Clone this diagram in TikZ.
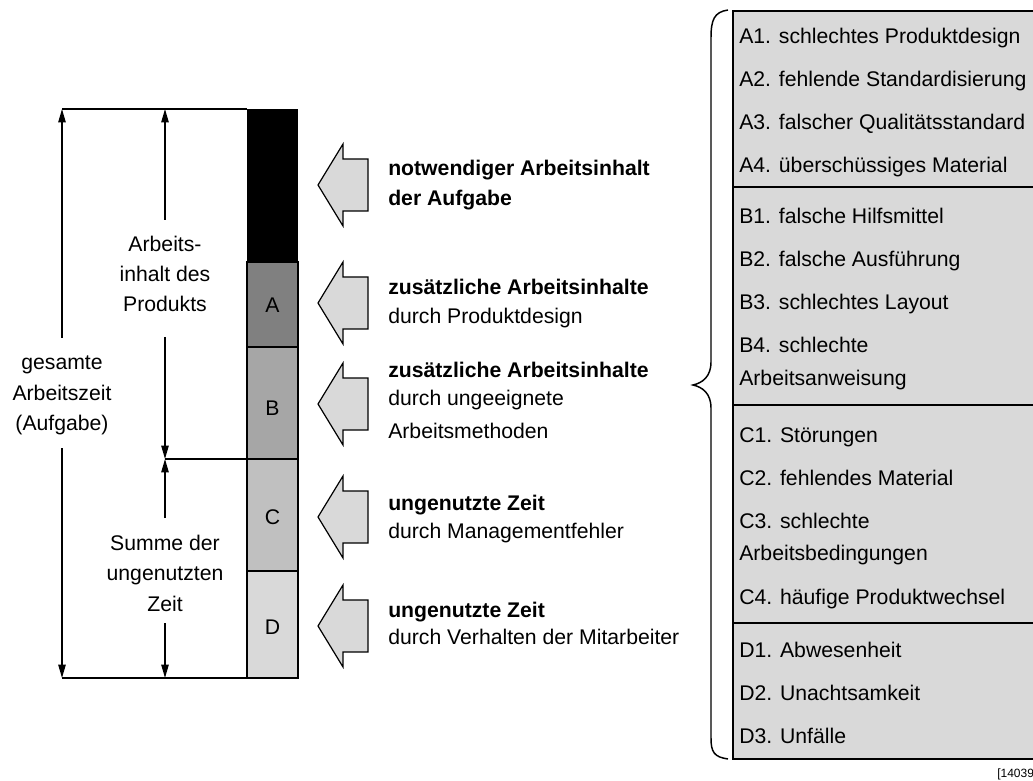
\documentclass[tikz,border=0pt]{standalone}
\usepackage{fontspec}
\setmainfont{Liberation Sans}
\usetikzlibrary{arrows.meta}
\definecolor{segA}{HTML}{808080}
\definecolor{segB}{HTML}{A6A6A6}
\definecolor{segC}{HTML}{C0C0C0}
\definecolor{segD}{HTML}{D9D9D9}
\definecolor{panel}{HTML}{D9D9D9}
\begin{document}
\begin{tikzpicture}[x=0.75pt,y=-0.75pt,
  every node/.style={inner sep=0pt,font=\fontsize{15.9}{18}\selectfont},
  lbl/.style={anchor=base},
  itm/.style={anchor=base west},
  hd/.style={anchor=base west,font=\fontsize{15.9}{18}\selectfont\bfseries},
  dim/.style={line width=1.1pt,-{Triangle[length=10pt,width=5.5pt]}},
  guide/.style={line width=1.1pt},
  seg/.style={draw,line width=0.8pt},
  blk/.style={draw,fill=segD,line width=0.9pt,line join=miter},
  rule/.style={line width=1.5pt}]
\useasboundingbox (0,0) rectangle (1033,781);
\clip (0,0) rectangle (1033,781);

% stacked bar
\fill[black] (247,109) rectangle (298,262);
\draw[seg,fill=segA] (247,262) rectangle (298,347);
\draw[seg,fill=segB] (247,347) rectangle (298,459);
\draw[seg,fill=segC] (247,459) rectangle (298,571);
\draw[seg,fill=segD] (247,571) rectangle (298,678);
\node[lbl] (la) at (272.5,313) {A};
\node[lbl] (lb) at (272.5,415) {B};
\node[lbl] (lc) at (272.5,524) {C};
\node[lbl] (ld) at (272.5,634) {D};

% dimension coordinates
\coordinate (tl) at (62,109);
\coordinate (tr) at (247,109);
\coordinate (bl) at (62,678);
\coordinate (br) at (247,678);
\coordinate (ml) at (165,459);
\coordinate (mr) at (247,459);
\coordinate (pt) at (165,109);
\coordinate (pb) at (165,678);
\coordinate (gUp) at (62,338);
\coordinate (gDn) at (62,448);
\coordinate (pUp) at (165,220);
\coordinate (pDn) at (165,337);
\coordinate (uUp) at (165,518);
\coordinate (uDn) at (165,623);

\draw[guide] (tl) -- (tr);
\draw[guide] (bl) -- (br);
\draw[guide] (ml) -- (mr);

% total working time
\draw[dim] (gUp) -- (tl);
\draw[dim] (gDn) -- (bl);
\node[lbl] (g1) at (62,369) {gesamte};
\node[lbl] (g2) at (62,400) {Arbeitszeit};
\node[lbl] (g3) at (62,430) {(Aufgabe)};

% work content of the product
\draw[dim] (pUp) -- (pt);
\draw[dim] (pDn) -- (ml);
\node[lbl] (p1) at (165,252) {Arbeits-};
\node[lbl] (p2) at (165,282) {inhalt des};
\node[lbl] (p3) at (165,312) {Produkts};

% ineffective time
\draw[dim] (uUp) -- (ml);
\draw[dim] (uDn) -- (pb);
\node[lbl] (u1) at (165,550) {Summe der};
\node[lbl] (u2) at (165,580) {ungenutzten};
\node[lbl] (u3) at (165,611) {Zeit};

% block arrows pointing at the bar
\foreach \c in {185,303,404,517,626}
  \draw[blk] (318,\c) -- (343,\c-41) -- (343,\c-26) -- (368,\c-26)
    -- (368,\c+26) -- (343,\c+26) -- (343,\c+41) -- cycle;

\node[hd]  (t1a) at (388,176) {notwendiger Arbeitsinhalt};
\node[hd]  (t1b) at (388,206) {der Aufgabe};
\node[hd]  (t2a) at (388,295) {zusätzliche Arbeitsinhalte};
\node[itm] (t2b) at (388,324) {durch Produktdesign};
\node[hd]  (t3a) at (388,378) {zusätzliche Arbeitsinhalte};
\node[itm] (t3b) at (388,406) {durch ungeeignete};
\node[itm] (t3c) at (388,438) {Arbeitsmethoden};
\node[hd]  (t4a) at (388,510) {ungenutzte Zeit};
\node[itm] (t4b) at (388,538) {durch Managementfehler};
\node[hd]  (t5a) at (388,617) {ungenutzte Zeit};
\node[itm] (t5b) at (388,644) {durch Verhalten der Mitarbeiter};

% brace
\draw[line width=1.1pt] (728,10) .. controls (714,12) and (711,20) .. (711,38)
  -- (711,362) .. controls (711,377) and (702,383) .. (693,385)
  .. controls (702,387) and (711,393) .. (711,408)
  -- (711,738) .. controls (711,752) and (714,757) .. (728,759);

% cause list panel
\fill[panel] (733,11) rectangle (1045,759);
\draw[rule] (1045,11) -- (733,11) -- (733,759) -- (1045,759);
\draw[rule] (733,187) -- (1045,187);
\draw[rule] (733,405) -- (1045,405);
\draw[rule] (733,623) -- (1045,623);

\node[itm] (a1) at (739,44)  {A1. schlechtes Produktdesign};
\node[itm] (a2) at (739,87)  {A2. fehlende Standardisierung};
\node[itm] (a3) at (739,130) {A3. falscher Qualitätsstandard};
\node[itm] (a4) at (739,173) {A4. überschüssiges Material};
\node[itm] (b1) at (739,224) {B1. falsche Hilfsmittel};
\node[itm] (b2) at (739,267) {B2. falsche Ausführung};
\node[itm] (b3) at (739,310) {B3. schlechtes Layout};
\node[itm] (b4) at (739,353) {B4. schlechte};
\node[itm] (b5) at (739,385) {Arbeitsanweisung};
\node[itm] (c1) at (739,442) {C1. Störungen};
\node[itm] (c2) at (739,485) {C2. fehlendes Material};
\node[itm] (c3) at (739,528) {C3. schlechte};
\node[itm] (c5) at (739,560) {Arbeitsbedingungen};
\node[itm] (c4) at (739,604) {C4. häufige Produktwechsel};
\node[itm] (d1) at (739,657) {D1. Abwesenheit};
\node[itm] (d2) at (739,700) {D2. Unachtsamkeit};
\node[itm] (d3) at (739,743) {D3. Unfälle};

\node[itm,font=\fontsize{9}{11}\selectfont] (ref) at (997,777) {[14039};
\end{tikzpicture}
\end{document}
